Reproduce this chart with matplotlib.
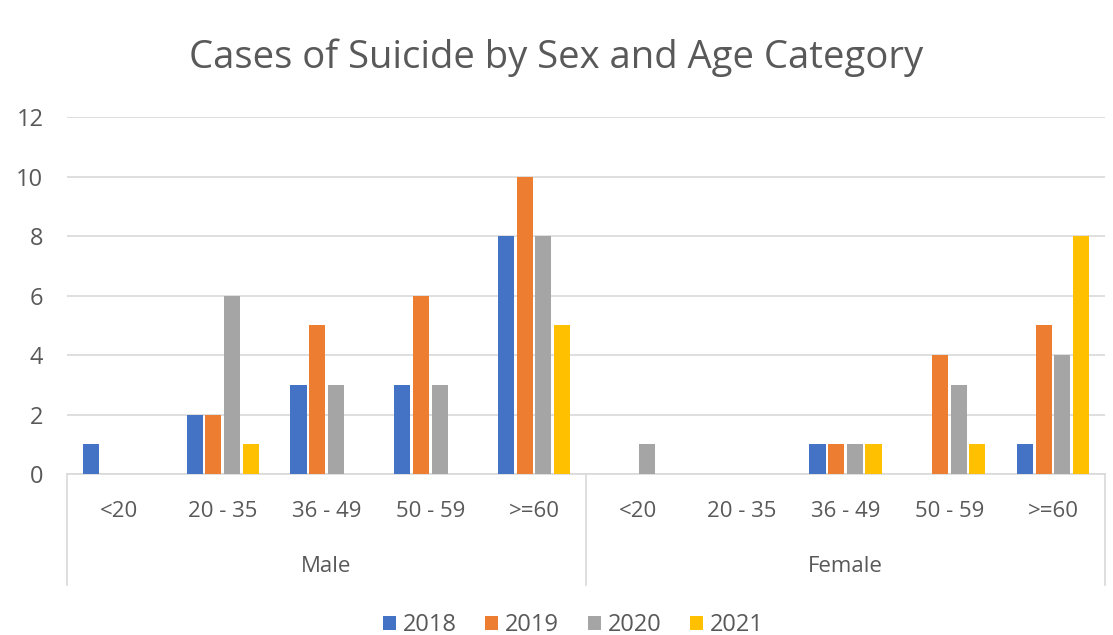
import matplotlib.pyplot as plt
import numpy as np

# data
sexes = ['Male', 'Female']
ages = ['<20', '20 - 35', '36 - 49', '50 - 59', '>=60']
years = ['2018', '2019', '2020', '2021']
v2018 = [1, 2, 3, 3, 8, 0, 0, 1, 0, 1]
v2019 = [0, 2, 5, 6, 10, 0, 0, 1, 4, 5]
v2020 = [0, 6, 3, 3, 8, 1, 0, 1, 3, 4]
v2021 = [0, 1, 0, 0, 5, 0, 0, 1, 1, 8]
colors = ['#4472C4', '#ED7D31', '#A5A5A5', '#FFC000']

plt.rcParams['font.family'] = ['Open Sans', 'DejaVu Sans']
txt = '#595959'

fig = plt.figure(figsize=(11.13, 6.35), dpi=100)
ax = fig.add_axes([0.0602, 0.2535, 0.9326, 0.5622])

n = len(ages) * len(sexes)
x = np.arange(n)
w = 0.155
step = 0.18
series = [v2018, v2019, v2020, v2021]
for i, (vals, c, lab) in enumerate(zip(series, colors, years)):
    ax.bar(x + (i - 1.5) * step, vals, w, color=c, label=lab, zorder=3)

ax.set_xlim(-0.5, n - 0.5)
ax.set_ylim(0, 12)
ax.set_yticks(range(0, 13, 2))
ax.grid(axis='y', color='#D9D9D9', linewidth=1.2, zorder=0)
for s in ['top', 'right', 'left']:
    ax.spines[s].set_visible(False)
ax.spines['bottom'].set_color('#D9D9D9')
ax.spines['bottom'].set_linewidth(1.2)
ax.tick_params(axis='y', length=0, labelsize=17, labelcolor=txt, pad=17)
ax.set_xticks([])

# hierarchical category axis
trans = ax.get_xaxis_transform()
for k, a in enumerate(ages * len(sexes)):
    ax.text(k, -0.105, a, transform=trans, ha='center', va='center',
            fontsize=16, color=txt)
for j, s in enumerate(sexes):
    ax.text(j * len(ages) + (len(ages) - 1) / 2, -0.26, s, transform=trans,
            ha='center', va='center', fontsize=16, color=txt)
for b in range(len(sexes) + 1):
    ax.plot([b * len(ages) - 0.5] * 2, [0, -0.31], transform=trans,
            color='#D9D9D9', linewidth=1.2, clip_on=False)

fig.suptitle('Cases of Suicide by Sex and Age Category', y=0.94,
             fontsize=27.5, color=txt)
fig.legend(loc='lower center', bbox_to_anchor=(0.515, -0.037), ncol=4,
           frameon=False, fontsize=17, labelcolor=txt, handlelength=0.55,
           handleheight=0.55, handletextpad=0.3, columnspacing=1.2)

fig.savefig('out.png', dpi=100)
